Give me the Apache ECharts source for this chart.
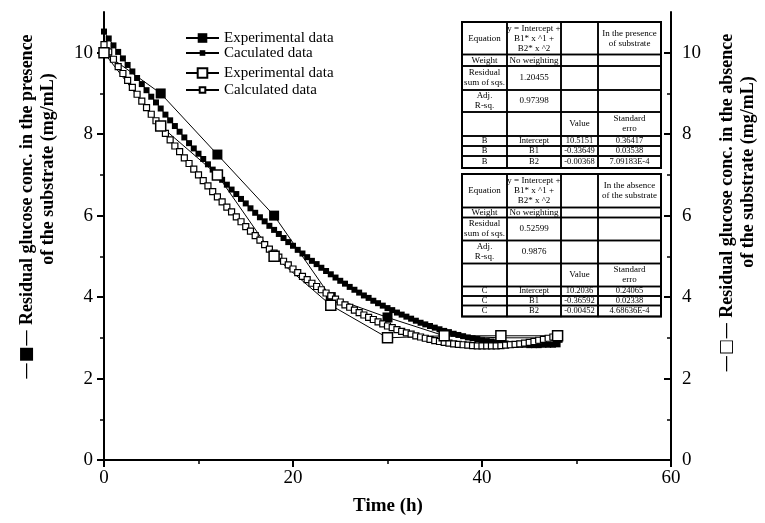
<!DOCTYPE html>
<html>
<head>
<meta charset="utf-8">
<script src="https://cdn.jsdelivr.net/npm/echarts@6/dist/echarts.min.js"></script>
<style>
  html, body { margin: 0; padding: 0; background: #fff; }
  #main { width: 765px; height: 523px; }
</style>
</head>
<body>
<div id="main"></div>
<script>
// measured points
const expTime = [0, 6, 12, 18, 24, 30, 36, 42, 48]
const expPresence = [10.0, 9.0, 7.5, 6.0, 4.0, 3.5, 3.05, 3.0, 3.0]
const expAbsence = [10.0, 8.2, 7.0, 5.0, 3.8, 3.0, 3.05, 3.05, 3.05]

// fitted curves
const calcTime = [0, 0.5, 1, 1.5, 2, 2.5, 3, 3.5, 4, 4.5, 5, 5.5, 6, 6.5, 7, 7.5, 8, 8.5, 9, 9.5,
  10, 10.5, 11, 11.5, 12, 12.5, 13, 13.5, 14, 14.5, 15, 15.5, 16, 16.5, 17, 17.5, 18, 18.5, 19, 19.5,
  20, 20.5, 21, 21.5, 22, 22.5, 23, 23.5, 24, 24.5, 25, 25.5, 26, 26.5, 27, 27.5, 28, 28.5, 29, 29.5,
  30, 30.5, 31, 31.5, 32, 32.5, 33, 33.5, 34, 34.5, 35, 35.5, 36, 36.5, 37, 37.5, 38, 38.5, 39, 39.5,
  40, 40.5, 41, 41.5, 42, 42.5, 43, 43.5, 44, 44.5, 45, 45.5, 46, 46.5, 47, 47.5, 48]
const calcPresence = [10.52, 10.35, 10.18, 10.02, 9.86, 9.70, 9.54, 9.38, 9.23, 9.08,
  8.92, 8.78, 8.63, 8.48, 8.34, 8.20, 8.06, 7.92, 7.78, 7.65,
  7.52, 7.39, 7.26, 7.13, 7.01, 6.88, 6.76, 6.64, 6.53, 6.41,
  6.30, 6.18, 6.07, 5.96, 5.86, 5.75, 5.65, 5.55, 5.45, 5.35,
  5.26, 5.16, 5.07, 4.98, 4.89, 4.81, 4.72, 4.64, 4.56, 4.48,
  4.40, 4.33, 4.25, 4.18, 4.11, 4.04, 3.98, 3.91, 3.85, 3.79,
  3.73, 3.68, 3.62, 3.57, 3.52, 3.47, 3.42, 3.37, 3.33, 3.29,
  3.25, 3.21, 3.17, 3.14, 3.10, 3.07, 3.04, 3.01, 2.99, 2.97,
  2.94, 2.92, 2.91, 2.89, 2.87, 2.86, 2.85, 2.84, 2.83, 2.83,
  2.82, 2.82, 2.82, 2.83, 2.83, 2.83, 2.84]
const calcAbsence = [10.20, 10.02, 9.84, 9.66, 9.49, 9.32, 9.15, 8.98, 8.81, 8.65,
  8.49, 8.33, 8.17, 8.02, 7.86, 7.71, 7.57, 7.42, 7.28, 7.14,
  7.00, 6.86, 6.73, 6.59, 6.46, 6.34, 6.21, 6.09, 5.97, 5.85,
  5.73, 5.62, 5.51, 5.40, 5.29, 5.18, 5.08, 4.98, 4.88, 4.79,
  4.69, 4.60, 4.51, 4.43, 4.34, 4.26, 4.18, 4.10, 4.03, 3.95,
  3.88, 3.81, 3.75, 3.68, 3.62, 3.56, 3.50, 3.45, 3.39, 3.34,
  3.29, 3.25, 3.20, 3.16, 3.12, 3.09, 3.05, 3.02, 2.99, 2.96,
  2.93, 2.91, 2.89, 2.87, 2.85, 2.84, 2.83, 2.82, 2.81, 2.80,
  2.80, 2.80, 2.80, 2.80, 2.81, 2.82, 2.83, 2.84, 2.85, 2.87,
  2.89, 2.91, 2.94, 2.96, 2.99, 3.02, 3.05]

const yMajorTicks = [0, 2, 4, 6, 8, 10]
const yMinorTicks = [1, 3, 5, 7, 9]

// fit tables (text only)
const tablePresence = [
  ['Equation', 'y = Intercept +\nB1* x ^1 +\nB2* x ^2', '', 'In the presence\nof substrate'],
  ['Weight', 'No weighting', '', ''],
  ['Residual\nsum of sqs.', '1.20455', '', ''],
  ['Adj.\nR-sq.', '0.97398', '', ''],
  ['', '', 'Value', 'Standard\nerro'],
  ['B', 'Intercept', '10.5151', '0.36417'],
  ['B', 'B1', '-0.33649', '0.03538'],
  ['B', 'B2', '-0.00368', '7.09183E-4']
]
const tableAbsence = [
  ['Equation', 'y = Intercept +\nB1* x ^1 +\nB2* x ^2', '', 'In the absence\nof the substrate'],
  ['Weight', 'No weighting', '', ''],
  ['Residual\nsum of sqs.', '0.52599', '', ''],
  ['Adj.\nR-sq.', '0.9876', '', ''],
  ['', '', 'Value', 'Standard\nerro'],
  ['C', 'Intercept', '10.2036', '0.24065'],
  ['C', 'B1', '-0.36592', '0.02338'],
  ['C', 'B2', '-0.00452', '4.68636E-4']
]

const FONT = '"Liberation Serif", "Times New Roman", serif'
const colEdges = [462, 507, 561, 598, 661]
const rowsPresence = [22, 54.5, 66, 90, 112, 136, 146, 156, 168]
const rowsAbsence = [174, 207.5, 217.5, 240.5, 263.5, 286.5, 296, 305.5, 316.5]

const zip = (xs, ys) => xs.map((x, i) => [x, ys[i]])

const buildTable = (rows, rowEdges) => {
  const els = []
  els.push({
    type: 'rect',
    z: 100,
    shape: { x: colEdges[0], y: rowEdges[0], width: colEdges[4] - colEdges[0], height: rowEdges[rowEdges.length - 1] - rowEdges[0] },
    style: { fill: '#fff', stroke: '#000', lineWidth: 2 }
  })
  rows.forEach((row, i) => {
    row.forEach((txt, j) => {
      const x0 = colEdges[j], x1 = colEdges[j + 1]
      const y0 = rowEdges[i], y1 = rowEdges[i + 1]
      els.push({
        type: 'rect',
        z: 101,
        shape: { x: x0, y: y0, width: x1 - x0, height: y1 - y0 },
        style: { fill: 'transparent', stroke: '#000', lineWidth: 1.5 }
      })
      if (txt) {
        els.push({
          type: 'text',
          z: 102,
          x: (x0 + x1) / 2,
          y: (y0 + y1) / 2,
          style: {
            text: txt,
            textAlign: 'center',
            textVerticalAlign: 'middle',
            fontSize: i >= 5 ? 8.5 : 9,
            lineHeight: 10,
            fontFamily: FONT,
            fill: '#000'
          }
        })
      }
    })
  })
  return els
}

const titleText = (x, y, text) => ({
  type: 'text',
  x: x,
  y: y,
  rotation: Math.PI / 2,
  style: {
    text: text,
    textAlign: 'center',
    textVerticalAlign: 'middle',
    fontSize: 18,
    fontWeight: 'bold',
    fontFamily: FONT,
    fill: '#000',
    rich: {
      s: { fontSize: 17, fontFamily: '"DejaVu Sans"', fontWeight: 'normal', fill: '#000' }
    }
  }
})

const yAxisBase = (position, inside, major) => ({
  type: 'value',
  min: 0,
  max: 11,
  interval: 1,
  position: position,
  axisLine: { show: major, onZero: false, lineStyle: { color: '#000', width: 2 } },
  axisTick: {
    show: true,
    inside: inside,
    length: major ? 7 : 4,
    customValues: major ? yMajorTicks : yMinorTicks,
    lineStyle: { color: '#000', width: major ? 2 : 1.5 }
  },
  axisLabel: {
    show: major,
    customValues: yMajorTicks,
    fontSize: 19,
    fontFamily: FONT,
    color: '#000',
    margin: major ? 11 : 8
  },
  splitLine: { show: false }
})

const legendBase = (name, top, itemHeight) => ({
  data: [name],
  orient: 'vertical',
  left: 185,
  top: top,
  padding: 0,
  itemWidth: 33,
  itemHeight: itemHeight,
  selectedMode: false,
  textStyle: { fontFamily: FONT, fontSize: 15, color: '#000', lineHeight: 15 }
})

const option = {
  animation: false,
  backgroundColor: '#fff',
  grid: { left: 104, right: 94, top: 12, bottom: 63 },
  legend: [
    legendBase('Experimental data', 30.5, 12),
    legendBase('Caculated data', 45.5, 7),
    legendBase('Experimental data ', 65.5, 12),
    legendBase('Calculated data', 82.5, 7)
  ],
  xAxis: {
    type: 'value',
    min: 0,
    max: 60,
    interval: 20,
    axisLine: { onZero: false, lineStyle: { color: '#000', width: 2 } },
    axisTick: { length: 7, lineStyle: { color: '#000', width: 2 } },
    minorTick: { show: true, splitNumber: 2, length: 4, lineStyle: { color: '#000', width: 1.5 } },
    axisLabel: { fontSize: 19, fontFamily: FONT, color: '#000', margin: 9 },
    splitLine: { show: false },
    minorSplitLine: { show: false }
  },
  yAxis: [
    yAxisBase('left', false, true),
    yAxisBase('left', false, false),
    yAxisBase('right', true, true),
    yAxisBase('right', true, false)
  ],
  series: [
    {
      name: 'Caculated data',
      type: 'line',
      data: zip(calcTime, calcPresence),
      symbol: 'rect',
      symbolSize: 6,
      showAllSymbol: true,
      itemStyle: { color: '#000' },
      lineStyle: { color: '#000', width: 1 },
      emphasis: { disabled: true }
    },
    {
      name: 'Experimental data',
      type: 'line',
      data: zip(expTime, expPresence),
      symbol: 'rect',
      symbolSize: 10,
      itemStyle: { color: '#000' },
      lineStyle: { color: '#000', width: 1 },
      emphasis: { disabled: true }
    },
    {
      name: 'Calculated data',
      type: 'line',
      yAxisIndex: 2,
      data: zip(calcTime, calcAbsence),
      symbol: 'rect',
      symbolSize: 6,
      showAllSymbol: true,
      itemStyle: { color: '#fff', borderColor: '#000', borderWidth: 1.2 },
      lineStyle: { color: '#000', width: 1 },
      emphasis: { disabled: true }
    },
    {
      name: 'Experimental data ',
      type: 'line',
      yAxisIndex: 2,
      data: zip(expTime, expAbsence),
      symbol: 'rect',
      symbolSize: 10,
      itemStyle: { color: '#fff', borderColor: '#000', borderWidth: 1.5 },
      lineStyle: { color: '#000', width: 1 },
      emphasis: { disabled: true }
    }
  ],
  graphic: [
    titleText(27, 207, '{s|—■—} Residual glucose conc. in the presence'),
    titleText(48, 169, 'of the substrate (mg/mL)'),
    titleText(727, 203, '{s|—□—} Residual glucose conc. in the absence'),
    titleText(748, 172, 'of the substrate (mg/mL)'),
    {
      type: 'text',
      x: 388,
      y: 506,
      style: { text: 'Time (h)', textAlign: 'center', textVerticalAlign: 'middle', fontSize: 19, fontWeight: 'bold', fontFamily: FONT, fill: '#000' }
    },
    ...buildTable(tablePresence, rowsPresence),
    ...buildTable(tableAbsence, rowsAbsence)
  ]
}

const chart = echarts.init(document.getElementById('main'))
chart.setOption(option)
</script>
</body>
</html>
